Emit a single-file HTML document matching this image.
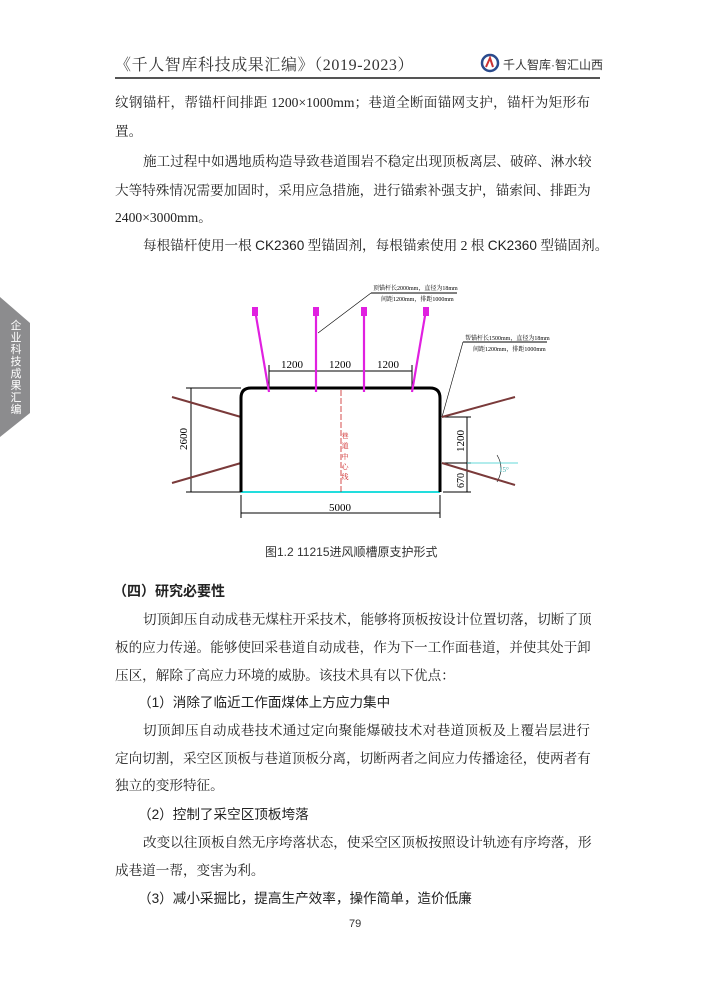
<!DOCTYPE html>
<html><head><meta charset="utf-8"><style>
body{margin:0;width:712px;height:1000px;background:#fff;position:relative;overflow:hidden;font-family:"Liberation Serif","Noto Serif CJK SC",serif;color:#222}
.l{position:absolute;left:115px;width:475px;height:22px;line-height:22px;font-size:13.6px;white-space:nowrap}
.j{text-align:justify;text-align-last:justify}
.s{font-family:"Liberation Sans","Noto Sans CJK SC",sans-serif}
</style></head><body>
<div style="position:absolute;left:115px;top:52px;font-size:16px;color:#333;letter-spacing:0.6px">《千人智库科技成果汇编》（2019-2023）</div>
<svg style="position:absolute;left:480px;top:53px" width="20" height="20"><circle cx="10" cy="10" r="8" fill="#fff" stroke="#2a4b8d" stroke-width="2.5"/><path d="M6 14 L10 5 L13 14" stroke="#c33" stroke-width="2" fill="none"/></svg>
<div class="s" style="position:absolute;left:503px;top:56px;font-size:12px;color:#333">千人智库·智汇山西</div>
<div style="position:absolute;left:115px;top:77px;width:485px;height:1.5px;background:#555"></div>

<svg style="position:absolute;left:0;top:297px" width="32" height="142"><polygon points="0,0 30,26 30,116 0,140" fill="#8c8c8e"/></svg>
<div class="s" style="position:absolute;left:8px;top:320px;width:16px;font-size:11px;line-height:12px;color:#fff;text-align:center">企<br>业<br>科<br>技<br>成<br>果<br>汇<br>编</div>

<div class="l j" style="top:92px">纹钢锚杆，帮锚杆间排距 1200×1000mm；巷道全断面锚网支护，锚杆为矩形布</div>
<div class="l" style="top:121px">置。</div>
<div class="l j" style="top:151px;left:143px;width:447px">施工过程中如遇地质构造导致巷道围岩不稳定出现顶板离层、破碎、淋水较</div>
<div class="l j" style="top:180px">大等特殊情况需要加固时，采用应急措施，进行锚索补强支护，锚索间、排距为</div>
<div class="l" style="top:207px">2400×3000mm。</div>
<div class="l j" style="top:235px;left:143px;width:447px">每根锚杆使用一根 <span class="s">CK2360</span> 型锚固剂，每根锚索使用 2 根 <span class="s">CK2360</span> 型锚固剂。</div>

<svg style="position:absolute;left:0;top:0" width="712" height="1000">
<g stroke="#000" stroke-width="1" fill="none">
<line x1="269" y1="371" x2="412" y2="371"/><line x1="269" y1="365" x2="269" y2="392"/><line x1="316" y1="365" x2="316" y2="375"/><line x1="364" y1="365" x2="364" y2="375"/><line x1="412" y1="365" x2="412" y2="392"/>
<line x1="191" y1="388" x2="191" y2="492"/><line x1="186" y1="388" x2="241" y2="388"/><line x1="186" y1="492" x2="241" y2="492"/>
<line x1="241" y1="513" x2="440" y2="513"/><line x1="241" y1="495" x2="241" y2="518"/><line x1="440" y1="495" x2="440" y2="518"/>
<line x1="467" y1="417" x2="467" y2="492"/><line x1="443" y1="417" x2="471" y2="417"/><line x1="443" y1="463" x2="471" y2="463"/><line x1="443" y1="492" x2="471" y2="492"/>
<line x1="371" y1="293" x2="318" y2="333" stroke-width=".6"/><line x1="371" y1="293" x2="457" y2="293"/>
<line x1="463" y1="342" x2="442" y2="417" stroke-width=".6"/><line x1="463" y1="342" x2="547" y2="342"/>
<path d="M497 455 Q505 468 497 482" stroke-width=".6"/>
</g>
<line x1="467" y1="463" x2="518" y2="463" stroke="#3cc" stroke-width=".8"/>
<g stroke="#7a3a3a" stroke-width="2">
<line x1="172" y1="397" x2="241" y2="417"/><line x1="172" y1="483" x2="241" y2="463"/>
<line x1="442" y1="417" x2="515" y2="397"/><line x1="442" y1="463" x2="515" y2="485"/>
</g>
<line x1="241" y1="492" x2="440" y2="492" stroke="#2dd" stroke-width="2"/>
<line x1="341" y1="390" x2="341" y2="492" stroke="#c22" stroke-width=".8" stroke-dasharray="6,2"/>
<path d="M241 492 V398 Q241 388 251 388 H430 Q440 388 440 398 V492" stroke="#000" stroke-width="3" fill="none"/>
<g stroke="#e020e0" stroke-width="2.2">
<line x1="255" y1="310" x2="269" y2="392"/><line x1="316" y1="310" x2="316" y2="392"/><line x1="364" y1="310" x2="364" y2="392"/><line x1="426" y1="310" x2="412" y2="392"/>
</g>
<g fill="#e020e0"><rect x="252" y="307" width="6" height="9"/><rect x="313" y="307" width="6" height="9"/><rect x="361" y="307" width="6" height="9"/><rect x="423" y="307" width="6" height="9"/></g>
<g font-family="Liberation Serif,Noto Serif CJK SC,serif" font-size="10" fill="#000">
<text x="292" y="368" font-size="11" text-anchor="middle">1200</text><text x="340" y="368" font-size="11" text-anchor="middle">1200</text><text x="388" y="368" font-size="11" text-anchor="middle">1200</text>
<text x="340" y="511" font-size="11" text-anchor="middle">5000</text>
<text transform="translate(187,450) rotate(-90)" font-size="11">2600</text>
<text transform="translate(464,452) rotate(-90)" font-size="11">1200</text>
<text transform="translate(464,488) rotate(-90)" font-size="10">670</text>
<text x="373" y="290" font-size="6">顶锚杆长2000mm，直径为18mm</text>
<text x="381" y="301" font-size="6">间距1200mm，排距1000mm</text>
<text x="465" y="340" font-size="6">帮锚杆长1500mm，直径为18mm</text>
<text x="473" y="351" font-size="6">间距1200mm，排距1000mm</text>
<text x="499" y="472" font-size="7" fill="#3aa">15°</text>
<g font-size="7" fill="#c22" text-anchor="middle"><text x="345" y="438">巷</text><text x="345" y="448">道</text><text x="345" y="459">中</text><text x="345" y="469">心</text><text x="345" y="479">线</text></g>
</g>
</svg>

<div class="s" style="position:absolute;left:265px;top:543px;font-size:12px;color:#333">图1.2 11215进风顺槽原支护形式</div>
<div class="l" style="top:580px;font-weight:bold;font-size:14px;font-family:'Liberation Sans','Noto Sans CJK SC',sans-serif;left:113px">（四）研究必要性</div>
<div class="l j" style="top:609px;left:143px;width:447px">切顶卸压自动成巷无煤柱开采技术，能够将顶板按设计位置切落，切断了顶</div>
<div class="l j" style="top:637px">板的应力传递。能够使回采巷道自动成巷，作为下一工作面巷道，并使其处于卸</div>
<div class="l" style="top:665px">压区，解除了高应力环境的威胁。该技术具有以下优点：</div>
<div class="l s" style="top:692px;left:138px;font-size:13.6px">（1）消除了临近工作面煤体上方应力集中</div>
<div class="l j" style="top:720px;left:143px;width:447px">切顶卸压自动成巷技术通过定向聚能爆破技术对巷道顶板及上覆岩层进行</div>
<div class="l j" style="top:748px">定向切割，采空区顶板与巷道顶板分离，切断两者之间应力传播途径，使两者有</div>
<div class="l" style="top:775px">独立的变形特征。</div>
<div class="l s" style="top:804px;left:138px;font-size:13.6px">（2）控制了采空区顶板垮落</div>
<div class="l j" style="top:832px;left:143px;width:447px">改变以往顶板自然无序垮落状态，使采空区顶板按照设计轨迹有序垮落，形</div>
<div class="l" style="top:860px">成巷道一帮，变害为利。</div>
<div class="l s" style="top:888px;left:138px;font-size:13.6px">（3）减小采掘比，提高生产效率，操作简单，造价低廉</div>
<div class="s" style="position:absolute;left:349px;top:918px;font-size:11px;color:#333">79</div>
</body></html>
